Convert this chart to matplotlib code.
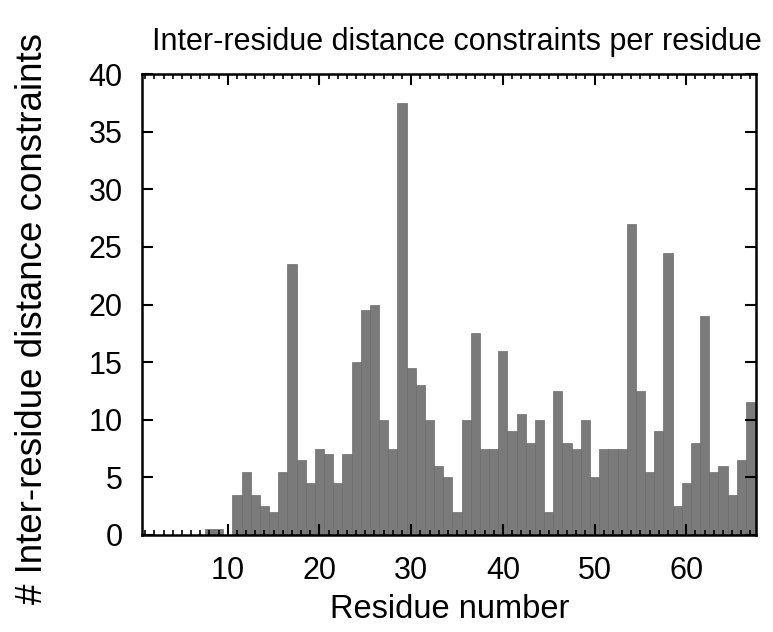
import matplotlib
matplotlib.use("Agg")
import matplotlib.pyplot as plt
from matplotlib.ticker import MultipleLocator

residues = list(range(1, 68))
constraints = [
    0, 0, 0, 0, 0, 0, 0, 0.5, 0.5, 0,          # 1-10
    3.5, 5.5, 3.5, 2.5, 2, 5.5, 23.5, 6.5, 4.5, 7.5,   # 11-20
    7, 4.5, 7, 15, 19.5, 20, 10, 7.5, 37.5, 14.5,      # 21-30
    13, 10, 6, 5, 2, 10, 17.5, 7.5, 7.5, 16,           # 31-40
    9, 10.5, 8, 10, 2, 12.5, 8, 7.5, 10, 5,            # 41-50
    7.5, 7.5, 7.5, 27, 12.5, 5.5, 9, 24.5, 2.5, 4.5,   # 51-60
    8, 19, 5.5, 6, 3.5, 6.5, 11.5,                     # 61-67
]
x_ticks = [10, 20, 30, 40, 50, 60]
y_ticks = [0, 5, 10, 15, 20, 25, 30, 35, 40]

plt.rcParams['font.family'] = ['Liberation Sans', 'DejaVu Sans']

W, H = 773, 632
fig = plt.figure(figsize=(W/100, H/100), dpi=100)
ax = fig.add_axes([142/W, 1-535/H, (756-142)/W, (535-74)/H])

ax.bar(residues, constraints, width=1.0, color='#7a7a7a',
       edgecolor='#6c6c6c', linewidth=0.5, zorder=1)

ax.set_xlim(0.65, 67.6)
ax.set_ylim(0, 40)
ax.set_xticks(x_ticks)
ax.set_yticks(y_ticks)
ax.xaxis.set_minor_locator(MultipleLocator(1))

for s in ax.spines.values():
    s.set_linewidth(1.8)
    s.set_color('black')

ax.tick_params(axis='both', which='major', direction='in', length=8, width=1.5,
               top=True, right=True, labelsize=22, colors='black')
ax.tick_params(axis='x', which='minor', direction='in', length=3.5, width=1.2,
               top=True, bottom=True)
ax.tick_params(axis='x', which='major', pad=15)
ax.tick_params(axis='y', which='major', pad=14)

fig.text(457/W, 1-50/H, 'Inter-residue distance constraints per residue',
         fontsize=22, ha='center', va='baseline')
fig.text(450/W, 1-618/H, 'Residue number', fontsize=23.5, ha='center', va='baseline')
fig.text(33/W, 1-318/H, '# Inter-residue distance constraints', fontsize=26.5,
         rotation=90, ha='center', va='center')

fig.savefig('out.png', dpi=100)
